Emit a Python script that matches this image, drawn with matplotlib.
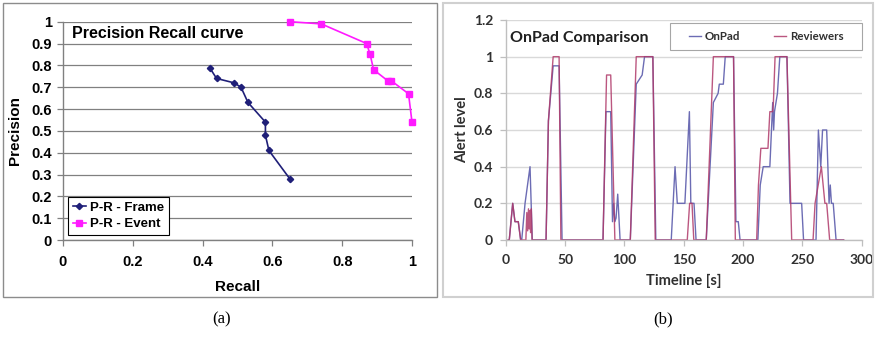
import matplotlib
matplotlib.use("Agg")
import matplotlib.pyplot as plt
from matplotlib.patches import Rectangle

# ---------------- data ----------------
frame_recall = [0.42, 0.44, 0.49, 0.51, 0.53, 0.58, 0.58, 0.59, 0.65]
frame_precision = [0.79, 0.74, 0.72, 0.70, 0.63, 0.54, 0.48, 0.41, 0.28]
event_recall = [0.65, 0.74, 0.87, 0.88, 0.89, 0.93, 0.94, 0.99, 1.00]
event_precision = [1.00, 0.99, 0.90, 0.85, 0.78, 0.73, 0.73, 0.67, 0.54]

rev_t = [2, 3, 5.9, 7.8, 10.6, 12.6, 17, 17.8, 18.5, 19.2, 19.8, 20.4, 21, 21.6, 22.2,
         34, 36, 40, 45, 46.5, 82, 85, 88.5, 92, 105, 110, 124, 126,
         153, 155, 157, 158.5, 169, 175, 192, 193.5,
         211.5, 213, 215, 221, 222.6, 225, 225.6, 227, 237, 241,
         259, 260.7, 266, 269, 270.5, 273, 285]
rev_v = [0, 0, 0.20, 0.10, 0.10, 0, 0, 0.15, 0.05, 0.17, 0.06, 0.16, 0.04, 0.17, 0,
         0, 0.65, 1.0, 1.0, 0, 0, 0.90, 0.90, 0, 0, 1.0, 1.0, 0,
         0, 0.2, 0.2, 0, 0, 1.0, 1.0, 0,
         0, 0.30, 0.50, 0.50, 0.70, 0.70, 0.75, 1.0, 1.0, 0,
         0, 0.2, 0.4, 0.2, 0.2, 0, 0]

onpad_t = [2, 3, 5.9, 7.8, 10.6, 12.6, 13.5, 16.3, 20.5, 22.4,
           34, 36, 40, 45, 47.5, 82, 84.5, 88.5, 90, 91, 92, 93, 94.4, 96.4,
           105, 110, 113, 115, 117, 124, 126.5,
           139.5, 142.7, 144.6, 151, 154.8, 156, 158.7, 160.4,
           169, 175, 179, 180, 183.4, 185, 192, 194, 196, 197.5,
           212.5, 214.5, 217, 222.6, 225, 225.8, 226.5, 229, 231, 237, 239.6, 249.4, 251,
           261.5, 263.5, 265.5, 267, 270.5, 272.5, 273.5, 274.5, 276, 278.4, 284.5]
onpad_v = [0, 0, 0.20, 0.10, 0.10, 0, 0, 0.2, 0.4, 0,
           0, 0.65, 0.95, 0.95, 0, 0, 0.70, 0.70, 0.10, 0.20, 0.10, 0.12, 0.25, 0,
           0, 0.85, 0.88, 0.90, 1.0, 1.0, 0,
           0, 0.40, 0.20, 0.20, 0.70, 0.20, 0.20, 0,
           0, 0.75, 0.80, 0.85, 0.85, 1.0, 1.0, 0.10, 0.10, 0,
           0, 0.30, 0.40, 0.40, 0.75, 0.60, 0.70, 0.80, 1.0, 1.0, 0.20, 0.20, 0,
           0, 0.60, 0.40, 0.60, 0.60, 0.20, 0.30, 0.20, 0.20, 0, 0]

# ---------------- figure ----------------
W, H = 875, 337
fig = plt.figure(figsize=(W / 100, H / 100), dpi=100)
fig.patch.set_facecolor("white")

def fx(px):
    return px / W

def fy(py):
    return 1 - py / H

# panel borders
fig.add_artist(Rectangle((fx(3), fy(297)), 434 / W, 294 / H, transform=fig.transFigure,
                         fill=False, edgecolor="#8C8C8C", lw=1.0))
fig.add_artist(Rectangle((fx(443), fy(297)), 430 / W, 294 / H, transform=fig.transFigure,
                         fill=False, edgecolor="#D0D0D0", lw=1.5))

# ---------------- left panel ----------------
axL = fig.add_axes([fx(63), fy(240), (412 - 63) / W, (240 - 21.7) / H])
axL.set_xlim(0, 1)
axL.set_ylim(0, 1)
axL.set_yticks([i / 10 for i in range(11)])
axL.set_yticklabels(["0", "0.1", "0.2", "0.3", "0.4", "0.5", "0.6", "0.7", "0.8", "0.9", "1"])
axL.set_xticks([0, 0.2, 0.4, 0.6, 0.8, 1.0])
axL.set_xticklabels(["0", "0.2", "0.4", "0.6", "0.8", "1"])
axL.grid(axis="y", color="#808080", lw=0.9)
axL.set_axisbelow(True)
for s in ["top", "right"]:
    axL.spines[s].set_visible(False)
for s in ["left", "bottom"]:
    axL.spines[s].set_color("#808080")
    axL.spines[s].set_linewidth(1.0)
axL.tick_params(axis="both", direction="out", length=4, color="#808080", width=0.9,
                labelsize=10.5)
axL.tick_params(axis="x", pad=7)
axL.tick_params(axis="y", pad=4)
for lab in axL.get_xticklabels() + axL.get_yticklabels():
    lab.set_fontfamily("Liberation Sans")
    lab.set_fontweight("bold")
axL.plot(frame_recall, frame_precision, color="#1F1F78", lw=1.2, marker="D", ms=3.2,
         label="P-R - Frame", clip_on=False)
axL.plot(event_recall, event_precision, color="#FF1AFF", lw=1.2, marker="s", ms=3.8,
         label="P-R - Event", clip_on=False)
axL.set_xlabel("Recall", fontsize=11, fontweight="bold", family="Liberation Sans", labelpad=8)
axL.set_ylabel("Precision", fontsize=11, fontweight="bold", family="Liberation Sans", labelpad=7)
axL.text(0.026, 0.948, "Precision Recall curve", transform=axL.transAxes, fontsize=11.5,
         fontweight="bold", family="Liberation Sans", va="center", ha="left")
legL = axL.legend(loc="lower left", bbox_to_anchor=(0.014, 0.023), borderaxespad=0,
                  fancybox=False, edgecolor="#000000", framealpha=1,
                  prop={"family": "Liberation Sans", "weight": "bold", "size": 9.5},
                  handlelength=1.0, handletextpad=0.35, labelspacing=0.35, borderpad=0.35)
legL.get_frame().set_linewidth(0.8)

# ---------------- right panel ----------------
axR = fig.add_axes([fx(505.7), fy(240), (861.7 - 505.7) / W, (240 - 20) / H])
axR.set_xlim(0, 300)
axR.set_ylim(0, 1.2)
axR.set_xticks([0, 50, 100, 150, 200, 250, 300])
axR.set_yticks([0, 0.2, 0.4, 0.6, 0.8, 1.0, 1.2])
axR.set_yticklabels(["0", "0.2", "0.4", "0.6", "0.8", "1", "1.2"])
axR.grid(axis="y", color="#D9D9D9", lw=1.0)
axR.set_axisbelow(True)
for s in ["top", "right"]:
    axR.spines[s].set_visible(False)
for s in ["left", "bottom"]:
    axR.spines[s].set_color("#BFBFBF")
    axR.spines[s].set_linewidth(1.0)
axR.tick_params(axis="both", direction="out", length=4, color="#BFBFBF", width=0.9,
                labelsize=10, labelcolor="#303030")
axR.tick_params(axis="x", pad=6)
axR.tick_params(axis="y", pad=5)
for lab in axR.get_xticklabels() + axR.get_yticklabels():
    lab.set_fontfamily("Lato")
    lab.set_fontweight("bold")
axR.plot(onpad_t, onpad_v, color="#6C6CB4", lw=1.0, label="OnPad")
axR.plot(rev_t, rev_v, color="#B03A6A", lw=1.0, alpha=0.85, label="Reviewers")
axR.set_xlabel("Timeline [s]", fontsize=10.5, fontweight="bold", family="Lato", labelpad=6,
               color="#303030")
axR.set_ylabel("Alert level", fontsize=10.5, fontweight="bold", family="Lato", labelpad=3,
               color="#303030")
axR.text(0.012, 0.918, "OnPad Comparison", transform=axR.transAxes, fontsize=11.5,
         fontweight="bold", family="Lato", va="center", ha="left", color="#202020")
# legend box drawn separately, legend entries centered in it
axR.add_patch(Rectangle((0.462, 0.864), 0.538, 0.122, transform=axR.transAxes,
                        facecolor="white", edgecolor="#A6A6A6", lw=0.8, zorder=4,
                        clip_on=False))
legR = axR.legend(loc="center", bbox_to_anchor=(0.731, 0.925), ncol=2, borderaxespad=0,
                  frameon=False,
                  prop={"family": "Lato", "weight": "bold", "size": 8.3},
                  handlelength=1.05, handletextpad=0.3, borderpad=0.0, columnspacing=3.0)
legR.set_zorder(5)
for t in legR.get_texts():
    t.set_color("#303030")

# ---------------- captions ----------------
fig.text(fx(222), fy(319), "(a)", fontsize=12, family="Liberation Serif", ha="center",
         va="center")
fig.text(fx(663), fy(319), "(b)", fontsize=12, family="Liberation Serif", ha="center",
         va="center")

fig.savefig("out.png", dpi=100)
